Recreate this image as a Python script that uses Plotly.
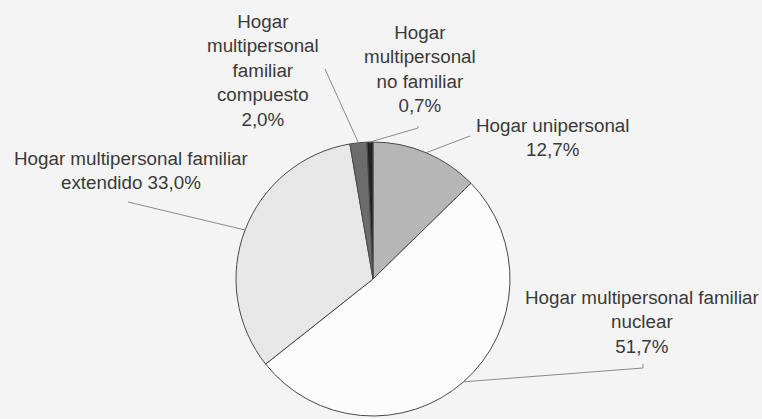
import math
import plotly.graph_objects as go

# Data
categories = [
    "Hogar unipersonal",
    "Hogar multipersonal familiar nuclear",
    "Hogar multipersonal familiar extendido",
    "Hogar multipersonal familiar compuesto",
    "Hogar multipersonal no familiar",
]
values = [12.7, 51.7, 33.0, 2.0, 0.7]
label_texts = [
    "Hogar unipersonal<br>12,7%",
    "Hogar multipersonal familiar<br>nuclear<br>51,7%",
    "Hogar multipersonal familiar<br>extendido 33,0%",
    "Hogar<br>multipersonal<br>familiar<br>compuesto<br>2,0%",
    "Hogar<br>multipersonal<br>no familiar<br>0,7%",
]
colors = ["#b6b6b6", "#fcfcfc", "#e7e7e7", "#6c6c6c", "#222222"]

W, H = 762, 419
cx, cy, r = 373, 279, 137  # pie placement in pixels

# label block centres (pixels) and leader-line bend points
label_pos = [(552, 138), (642, 322), (131, 170), (263, 70), (420, 69)]
leader_ends = [
    [(470, 136)],
    [(643, 368), (643, 364)],
    [(128, 202)],
    [(325, 69)],
    [(418, 128), (418, 126)],
]

def px(x):
    return x / W

def py(y):
    return 1 - y / H

fig = go.Figure(
    go.Pie(
        labels=categories,
        values=values,
        sort=False,
        direction="clockwise",
        rotation=0,
        marker=dict(colors=colors, line=dict(color="#4a4a4a", width=1)),
        textinfo="none",
        hoverinfo="label+percent",
        showlegend=False,
        domain=dict(x=[px(cx - r), px(cx + r)], y=[py(cy + r), py(cy - r)]),
    )
)

total = sum(values)
cum = 0.0
shapes = []
annotations = []
for i, v in enumerate(values):
    mid = (cum + v / 2) / total * 2 * math.pi
    cum += v
    sx = cx + r * math.sin(mid)
    sy = cy - r * math.cos(mid)
    pts = [(sx, sy)] + leader_ends[i]
    path = "M " + " L ".join(f"{px(a):.5f},{py(b):.5f}" for a, b in pts)
    shapes.append(dict(type="path", xref="paper", yref="paper", path=path,
                       line=dict(color="#8a8a8a", width=1)))
    lx, ly = label_pos[i]
    annotations.append(dict(
        x=px(lx), y=py(ly), xref="paper", yref="paper",
        text=label_texts[i], showarrow=False,
        xanchor="center", yanchor="middle", align="center",
        font=dict(family="Liberation Sans, Arial, sans-serif", size=18.8, color="#3a3a3a"),
    ))

fig.update_layout(
    width=W, height=H,
    margin=dict(l=0, r=0, t=0, b=0),
    paper_bgcolor="#f4f4f4",
    plot_bgcolor="#f4f4f4",
    shapes=shapes,
    annotations=annotations,
)

fig.write_html(
    "out.html",
    config={"displayModeBar": False},
    post_script="document.body.style.margin='0';document.body.style.overflow='hidden';",
)
